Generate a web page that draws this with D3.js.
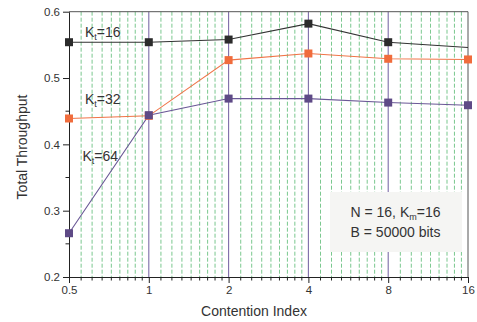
<!DOCTYPE html>
<html><head><meta charset="utf-8">
<script src="https://cdn.jsdelivr.net/npm/d3@7"></script>
<style>body{margin:0;background:#fff}svg{display:block}text{font-family:"Liberation Sans",Arial,sans-serif}</style>
</head><body>
<svg id="c" width="477" height="322"></svg>
<script>
const xValues = [0.5, 1, 2, 4, 8, 16];
const xTickLabels = ["0.5", "1", "2", "4", "8", "16"];
const yTicks = [0.2, 0.3, 0.4, 0.5, 0.6];
const yTickLabels = ["0.2", "0.3", "0.4", "0.5", "0.6"];
const yMinorTicks = [0.25, 0.35, 0.45, 0.55];
const seriesKt16 = [0.554, 0.554, 0.558, 0.582, 0.554, 0.546];
const seriesKt32 = [0.439, 0.443, 0.527, 0.537, 0.529, 0.528];
const seriesKt64 = [0.266, 0.444, 0.469, 0.469, 0.463, 0.459];
const seriesNames = ["16", "32", "64"];

const svg = d3.select("#c");
const L = 69, R = 468, T = 11.7, B = 277;
const x = d3.scaleLog().base(2).domain([0.5, 16]).range([L, R]);
const y = d3.scaleLinear().domain([0.2, 0.6]).range([B, T]);

// minor grid values: 8 linear subdivisions per octave
const minorX = [];
[0.5, 1, 2, 4, 8].forEach(o => { for (let k = 1; k <= 8; k++) minorX.push(o + o * k / 9); });

const g = svg.append("g");
g.selectAll("line.mg").data(minorX).enter().append("line")
  .attr("x1", d => x(d)).attr("x2", d => x(d)).attr("y1", T).attr("y2", B)
  .attr("stroke", "#2ea84e").attr("stroke-width", 0.9).attr("stroke-dasharray", "4,2").attr("opacity", 0.7);
g.selectAll("line.Mg").data([1, 2, 4, 8]).enter().append("line")
  .attr("x1", d => x(d)).attr("x2", d => x(d)).attr("y1", T).attr("y2", B)
  .attr("stroke", "#7d6ca8").attr("stroke-width", 1.1);

// annotation box
svg.append("rect").attr("x", 330).attr("y", 192).attr("width", 132).attr("height", 60).attr("fill", "#f5f5f3");
const ann = svg.append("text").attr("x", 395.5).attr("y", 216.7).attr("text-anchor", "middle").attr("font-size", 14).attr("fill", "#333");
ann.append("tspan").text("N = 16, K");
ann.append("tspan").text("m").attr("font-size", 9).attr("dy", 3);
ann.append("tspan").text("=16").attr("dy", -3);
svg.append("text").attr("x", 395.5).attr("y", 237).attr("text-anchor", "middle").attr("font-size", 14).attr("fill", "#333").text("B = 50000 bits");

// frame
svg.append("line").attr("x1", L).attr("x2", R).attr("y1", T).attr("y2", T).attr("stroke", "#555").attr("stroke-width", 1);
svg.append("line").attr("x1", R).attr("x2", R).attr("y1", T).attr("y2", B).attr("stroke", "#555").attr("stroke-width", 1);

// x axis
const xa = svg.append("g").attr("transform", `translate(0,${B})`);
xa.call(d3.axisBottom(x).tickValues(xValues).tickFormat((d, i) => xTickLabels[i]).tickSize(6).tickSizeOuter(0));
xa.select(".domain").attr("stroke", "#222");
xa.selectAll(".tick line").attr("stroke", "#222");
xa.selectAll(".tick text").attr("font-size", 11.5).attr("fill", "#333").attr("font-family", "Liberation Sans, Arial, sans-serif").attr("y", 9);
xa.selectAll("line.mt").data(minorX).enter().append("line")
  .attr("x1", d => x(d)).attr("x2", d => x(d)).attr("y1", 0).attr("y2", 3.5).attr("stroke", "#222");

// y axis
const ya = svg.append("g").attr("transform", `translate(${L},0)`);
ya.call(d3.axisLeft(y).tickValues(yTicks).tickFormat((d, i) => yTickLabels[i]).tickSize(6).tickSizeOuter(0));
ya.select(".domain").attr("stroke", "#222");
ya.selectAll(".tick line").attr("stroke", "#222");
ya.selectAll(".tick text").attr("font-size", 11.5).attr("fill", "#333").attr("font-family", "Liberation Sans, Arial, sans-serif").attr("x", -9);
ya.selectAll("line.mt").data(yMinorTicks).enter().append("line")
  .attr("x1", -3.5).attr("x2", 0).attr("y1", d => y(d)).attr("y2", d => y(d)).attr("stroke", "#222");

// series
const series = [
  {vals: seriesKt16, line: "#333333", mark: "#2b2b2b", markers: [0,1,2,3,4]},
  {vals: seriesKt32, line: "#f07448", mark: "#f06c3c", markers: [0,1,2,3,4,5]},
  {vals: seriesKt64, line: "#6a5896", mark: "#5e4a86", markers: [0,1,2,3,4,5]}
];
const line = d3.line().x((d, i) => x(xValues[i])).y(d => y(d));
series.forEach(s => {
  svg.append("path").attr("d", line(s.vals)).attr("fill", "none").attr("stroke", s.line).attr("stroke-width", 1.1);
});
series.forEach(s => {
  svg.selectAll(null).data(s.markers).enter().append("rect")
    .attr("x", i => x(xValues[i]) - 4).attr("y", i => y(s.vals[i]) - 4)
    .attr("width", 8).attr("height", 8).attr("fill", s.mark);
});

// series labels
const labelPos = [[85, 37], [85, 104], [82.5, 160.5]];
seriesNames.forEach((n, i) => {
  const t = svg.append("text").attr("x", labelPos[i][0]).attr("y", labelPos[i][1]).attr("font-size", 14).attr("fill", "#333");
  t.append("tspan").text("K");
  t.append("tspan").text("t").attr("font-size", 9).attr("dy", 3);
  t.append("tspan").text("=" + n).attr("dy", -3);
});

// axis titles
svg.append("text").attr("x", 254).attr("y", 316).attr("text-anchor", "middle").attr("font-size", 14).attr("fill", "#333").text("Contention Index");
svg.append("text").attr("transform", "translate(27,147) rotate(-90)").attr("text-anchor", "middle").attr("font-size", 14).attr("fill", "#333").text("Total Throughput");
</script>
</body></html>
